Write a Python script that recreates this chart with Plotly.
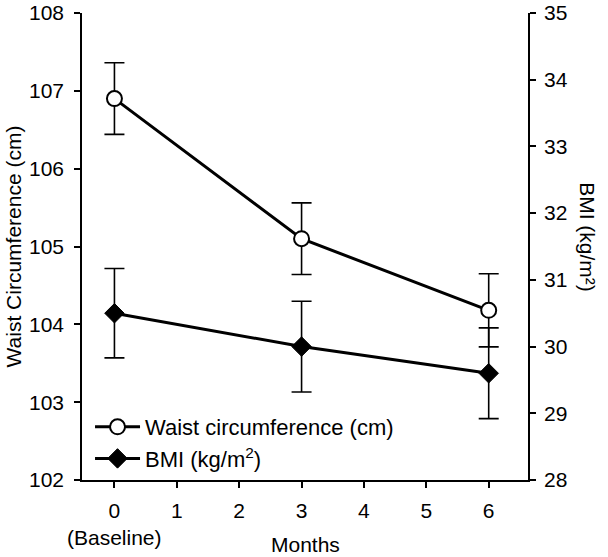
import plotly.graph_objects as go

months = [0, 3, 6]
waist = [106.9, 105.1, 104.18]
waist_err = [0.46, 0.46, 0.47]
bmi = [30.5, 30.0, 29.6]
bmi_err = [0.67, 0.68, 0.68]
x_ticks = [0, 1, 2, 3, 4, 5, 6]
left_ticks = [102, 103, 104, 105, 106, 107, 108]
right_ticks = [28, 29, 30, 31, 32, 33, 34, 35]

FONT = "Liberation Sans, Arial, sans-serif"
FS = 21

fig = go.Figure()
fig.add_trace(go.Scatter(
    x=months, y=waist, name="Waist circumference (cm)", mode="lines+markers",
    line=dict(color="black", width=3),
    marker=dict(symbol="circle", size=15, color="white", line=dict(color="black", width=2)),
    error_y=dict(type="data", array=waist_err, color="black", thickness=1.6, width=10),
    yaxis="y"))
fig.add_trace(go.Scatter(
    x=months, y=bmi, name="BMI (kg/m<sup>2</sup>)", mode="lines+markers",
    line=dict(color="black", width=3),
    marker=dict(symbol="diamond", size=15, color="black", line=dict(color="black", width=1)),
    error_y=dict(type="data", array=bmi_err, color="black", thickness=1.6, width=10),
    yaxis="y2"))

axis_common = dict(showgrid=False, zeroline=False, showline=True, linecolor="black",
                   linewidth=1.6, ticks="outside", ticklen=6, tickwidth=1.6, tickcolor="black",
                   automargin=False,
                   tickfont=dict(size=FS, color="black", family=FONT))

fig.update_layout(
    width=608, height=557,
    margin=dict(l=82, r=80, t=13, b=77),
    paper_bgcolor="white", plot_bgcolor="white",
    font=dict(family=FONT, color="black", size=FS),
    xaxis=dict(range=[-0.52, 6.63], tickvals=x_ticks, ticklabelstandoff=5, **axis_common),
    yaxis=dict(range=[102, 108], tickvals=left_ticks, ticklabelstandoff=6, **axis_common),
    yaxis2=dict(range=[28, 35], tickvals=right_ticks, overlaying="y", side="right",
                ticklabelstandoff=4, **axis_common),
    showlegend=True,
    legend=dict(x=0.018, y=0.0, xanchor="left", yanchor="bottom", bgcolor="rgba(0,0,0,0)",
                itemwidth=45, font=dict(size=22, family=FONT, color="black"), tracegroupgap=0),
    annotations=[
        dict(text="Waist Circumference (cm)", textangle=-90, xref="paper", yref="paper",
             x=0, y=0.5, xanchor="center", yanchor="middle", xshift=-69, showarrow=False,
             font=dict(size=FS)),
        dict(text="BMI (kg/m²)", textangle=90, xref="paper", yref="paper",
             x=1, y=0.52, xanchor="center", yanchor="middle", xshift=60, showarrow=False,
             font=dict(size=FS)),
        dict(text="(Baseline)", xref="x", yref="paper", x=0, y=0, yanchor="middle",
             yshift=-57, showarrow=False, font=dict(size=FS)),
        dict(text="Months", xref="paper", yref="paper", x=0.5, y=0, yanchor="middle",
             yshift=-64, showarrow=False, font=dict(size=FS)),
    ],
)

fig.write_html("out.html", config={"displayModeBar": False},
               post_script="document.body.style.margin='0';")
